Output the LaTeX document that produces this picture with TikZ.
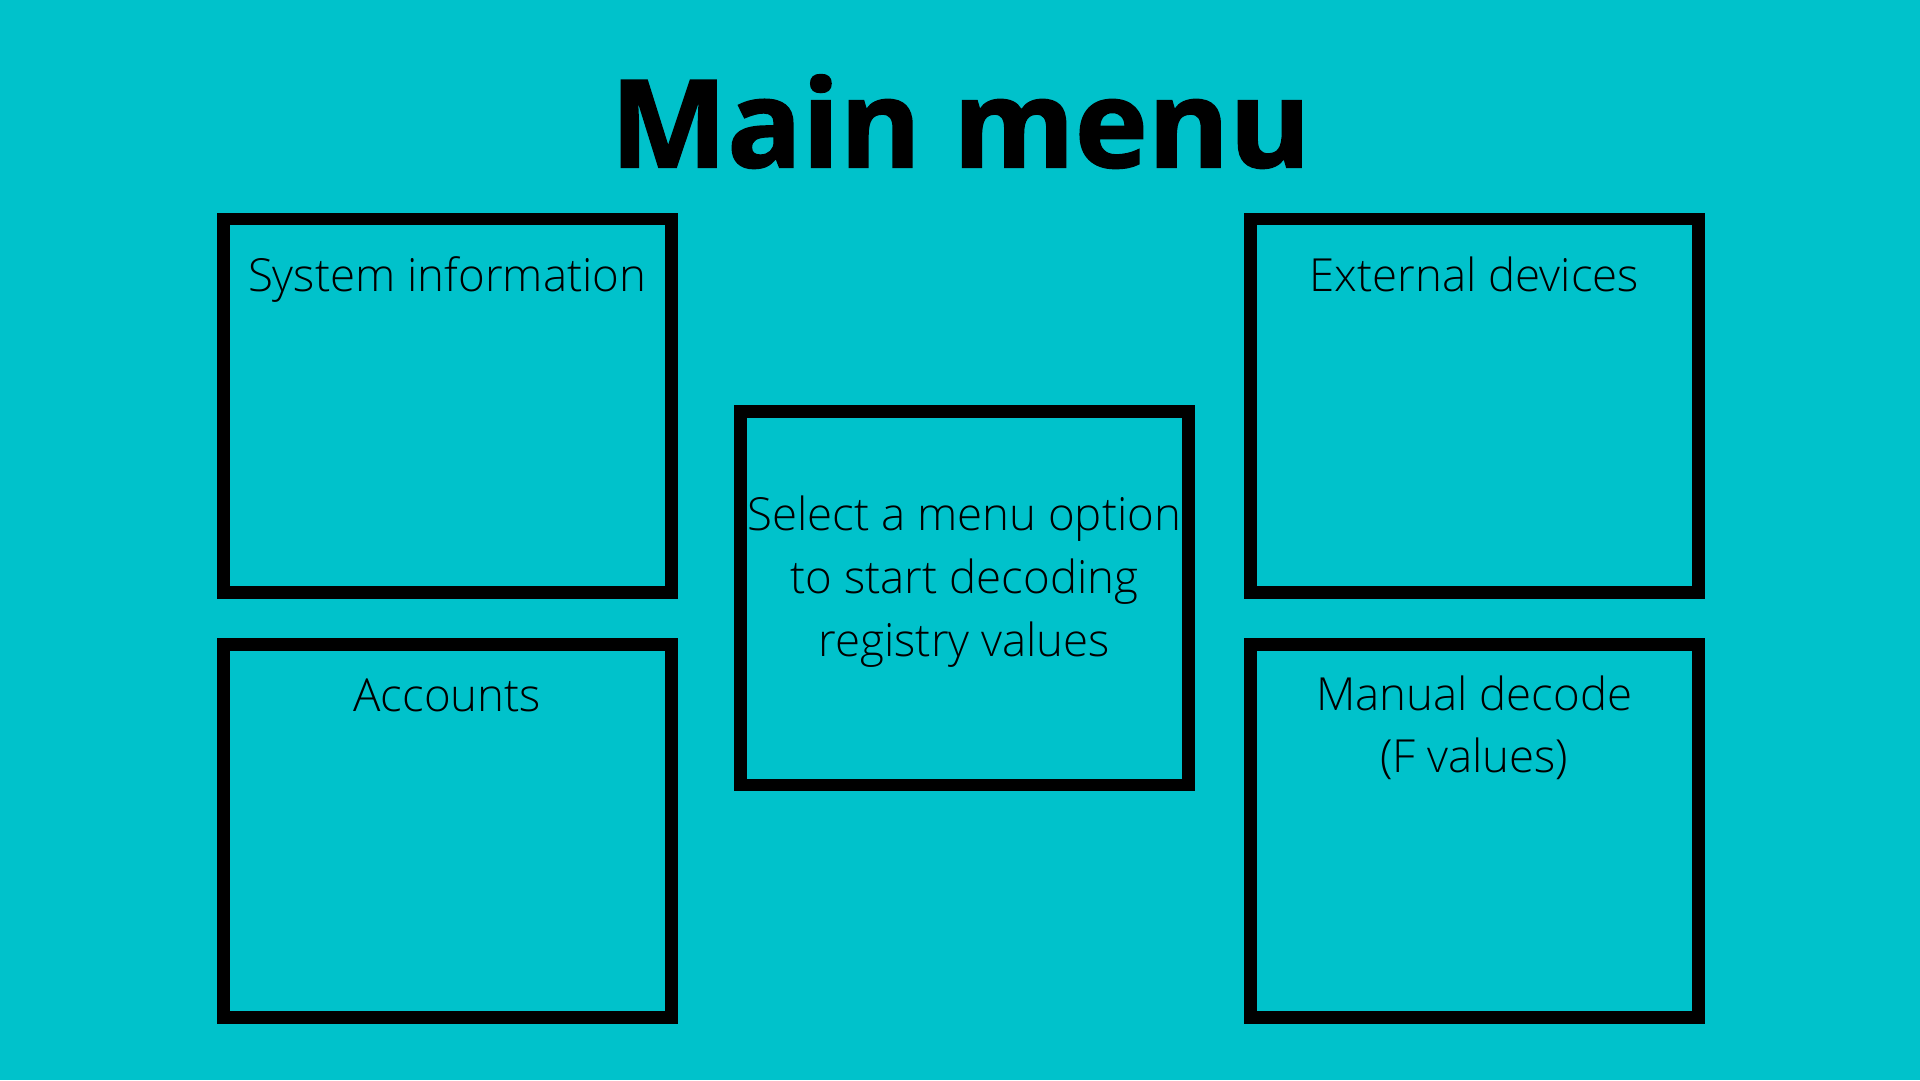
\documentclass[tikz,border=0pt]{standalone}
\usepackage{fontspec}
\setmainfont{Open Sans}[UprightFont=* Light, BoldFont=* Bold, BoldFeatures={FakeBold=1.4}]
\definecolor{bgcyan}{RGB}{0,194,203}
\begin{document}
\begin{tikzpicture}[x=1pt,y=-1pt,
  menubox/.style={draw=black, line width=12.7pt, rectangle, inner sep=0pt,
    minimum width=448pt, minimum height=373.5pt},
  label/.style={anchor=base, inner sep=0pt, align=center,
    font=\fontsize{45.6}{63.3}\selectfont},
  titletext/.style={anchor=base, inner sep=0pt, xscale=1.015, transform shape,
    font=\fontsize{122}{130}\selectfont\bfseries}]
\fill[bgcyan] (0,0) rectangle (1920,1080);
\useasboundingbox (0,0) rectangle (1920,1080);
\node[titletext] (title) at (960.6,167.3) {Main menu};
\node[menubox] (sys) at (447.3,405.8) {};
\node[menubox] (acc) at (447.3,831) {};
\node[menubox] (sel) at (964.3,598.3) {};
\node[menubox] (ext) at (1474.3,405.8) {};
\node[menubox] (man) at (1474.3,831) {};
\node[label] (systext) at (447.3,291) {System information};
\node[label] (acctext) at (447.3,711) {Accounts};
\node[label] (exttext) at (1474.3,291) {External devices};
\node[label] (mantext) at (1474.3,710) {Manual decode};
\node[label] (mantext2) at (1474.3,772) {(F values)};
\node[label] (seltext1) at (964.3,530) {Select a menu option};
\node[label] (seltext2) at (964.3,593.3) {to start decoding};
\node[label] (seltext3) at (964.3,656.7) {registry values};
\end{tikzpicture}
\end{document}
